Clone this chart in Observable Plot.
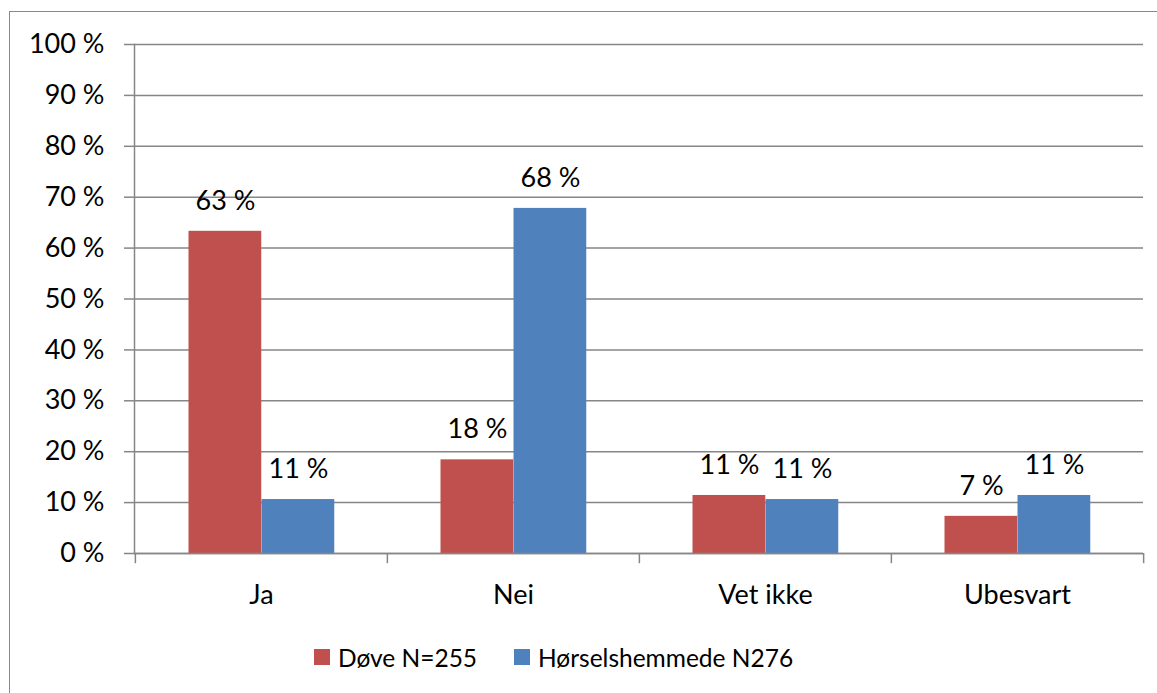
<!DOCTYPE html>
<html>
<head>
<meta charset="utf-8">
<script src="https://cdn.jsdelivr.net/npm/d3@7"></script>
<script src="https://cdn.jsdelivr.net/npm/@observablehq/plot@0.6"></script>
<style>
  html, body { margin: 0; padding: 0; background: #fff; overflow: hidden; }
  body { width: 1157px; height: 693px; position: relative; font-family: Lato, "Liberation Sans", sans-serif; }
  #frame { position: absolute; left: 9px; top: 11px; width: 1300px; height: 900px; border: 1.5px solid #888; box-sizing: border-box; }
  #chart { position: absolute; left: 0; top: 0; }
  #legend { position: absolute; left: 0; top: 640px; width: 1157px; height: 34px; font-size: 24.5px; color: #000; }
  .item { position: absolute; top: 0; height: 34px; display: flex; align-items: center; white-space: nowrap; }
  .sw { width: 16px; height: 16px; margin-right: 8px; }
</style>
</head>
<body>
<div id="frame"></div>
<div id="chart"></div>
<div id="legend"></div>
<script>
const categories = ["Ja", "Nei", "Vet ikke", "Ubesvart"];
const seriesNames = ["Døve N=255", "Hørselshemmede N276"];
const doveValues = [63.3, 18.4, 11.4, 7.3];
const horselValues = [10.6, 67.8, 10.6, 11.4];
const yTicks = [0, 10, 20, 30, 40, 50, 60, 70, 80, 90, 100];
const colors = ["#C0504D", "#4F81BD"];

const rows = categories.map((c, i) => ({category: c, dove: doveValues[i], horsel: horselValues[i]}));
const half = 1009 / 4 / 2;

const chart = Plot.plot({
  width: 1157,
  height: 620,
  marginLeft: 134,
  marginRight: 14,
  marginTop: 44,
  marginBottom: 67,
  style: {fontFamily: "Lato, 'Liberation Sans', sans-serif", fontSize: "27px", color: "#000", background: "transparent"},
  x: {domain: categories, padding: 0, label: null},
  y: {domain: [0, 100], label: null},
  marks: [
    Plot.gridY(yTicks, {stroke: "#868686", strokeOpacity: 1, strokeWidth: 1.5}),
    Plot.axisY(yTicks, {tickSize: 10, tickPadding: 20, tickFormat: d => d + " %", stroke: "#868686", strokeWidth: 1.5, fill: "#000", label: null, fontSize: 27}),
    Plot.axisX(categories, {tickSize: 0, tickPadding: 31, fill: "#000", label: null, fontSize: 27}),
    Plot.barY(rows, {x: "category", y: "dove", fill: colors[0], insetLeft: 53.5, insetRight: 125.75}),
    Plot.barY(rows, {x: "category", y: "horsel", fill: colors[1], insetLeft: 126.5, insetRight: 52.75}),
    Plot.frame({anchor: "left", stroke: "#868686", strokeWidth: 1.5}),
    Plot.ruleY([0], {stroke: "#868686", strokeWidth: 1.5}),
    Plot.ruleX(categories, {x: d => d, y1: 0, y2: -2, dx: -half, stroke: "#868686", strokeWidth: 1.5}),
    Plot.ruleX([categories[categories.length - 1]], {x: d => d, y1: 0, y2: -2, dx: half, stroke: "#868686", strokeWidth: 1.5}),
    Plot.text(rows, {x: "category", y: "dove", text: d => Math.round(d.dove) + " %", dx: -36, dy: -30, fill: "#000", fontSize: 27}),
    Plot.text(rows, {x: "category", y: "horsel", text: d => Math.round(d.horsel) + " %", dx: 37, dy: -30, fill: "#000", fontSize: 27})
  ]
});
document.getElementById("chart").append(chart);

const legend = document.getElementById("legend");
const legendLeft = [314, 514];
seriesNames.forEach((name, i) => {
  const item = document.createElement("div");
  item.className = "item";
  item.style.left = legendLeft[i] + "px";
  const sw = document.createElement("div");
  sw.className = "sw";
  sw.style.background = colors[i];
  const label = document.createElement("span");
  label.textContent = name;
  item.append(sw, label);
  legend.append(item);
});
</script>
</body>
</html>
